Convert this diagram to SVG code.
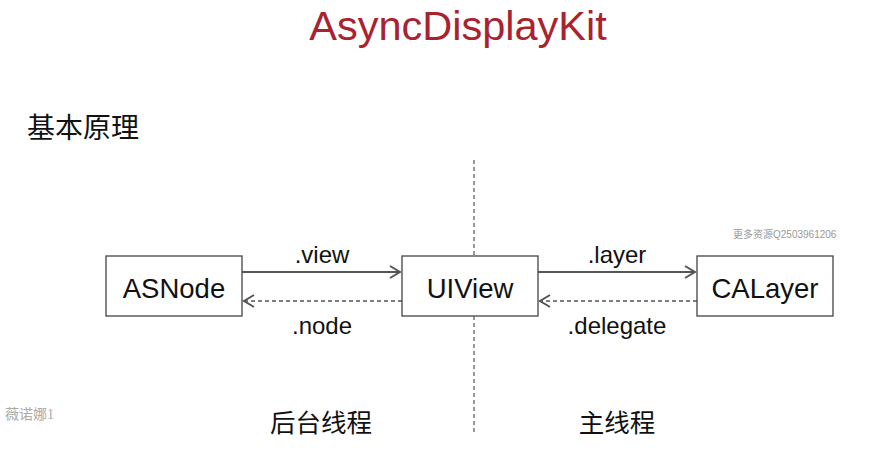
<svg xmlns="http://www.w3.org/2000/svg" width="872" height="468" viewBox="0 0 872 468">
<style>
.box{fill:#fff;stroke:#444;stroke-width:1.3}
.t{font-family:"Liberation Sans","Noto Sans CJK SC",sans-serif;fill:#111}
.bl{font-size:27.5px;text-anchor:middle}
.lbl{font-size:24px;text-anchor:middle}
.cn{font-family:"Noto Sans CJK SC",sans-serif;fill:#111}
.solid{stroke:#555;stroke-width:2;fill:none}
.dash{stroke:#555;stroke-width:1.5;fill:none;stroke-dasharray:4,3}
</style>
<defs>
<marker id="ah" markerWidth="14" markerHeight="14" refX="12" refY="7" orient="auto" markerUnits="userSpaceOnUse">
<path d="M2,1 L12,7 L2,13" fill="none" stroke="#555" stroke-width="2"/>
</marker>
</defs>
<rect width="872" height="468" fill="#fff"/>
<text x="458" y="40" font-family="Liberation Sans,sans-serif" font-size="41.5" fill="#a8232f" text-anchor="middle">AsyncDisplayKit</text>
<text x="27" y="138" class="cn" font-size="28">基本原理</text>
<g id="divider">
<line x1="474" y1="160" x2="474" y2="256" stroke="#777" stroke-width="1.5" stroke-dasharray="4,3"/>
<line x1="474" y1="316" x2="474" y2="432" stroke="#777" stroke-width="1.5" stroke-dasharray="4,3"/>
</g>
<g id="connectors">
<line class="solid" x1="242" y1="272" x2="400" y2="272" marker-end="url(#ah)"/>
<line class="dash" x1="402" y1="301" x2="244" y2="301" marker-end="url(#ah)"/>
<line class="solid" x1="538" y1="272" x2="695" y2="272" marker-end="url(#ah)"/>
<line class="dash" x1="697" y1="301" x2="540" y2="301" marker-end="url(#ah)"/>
<text class="t lbl" x="322" y="263">.view</text>
<text class="t lbl" x="322" y="334">.node</text>
<text class="t lbl" x="617" y="263">.layer</text>
<text class="t lbl" x="617" y="334">.delegate</text>
</g>
<g id="asnode">
<rect class="box" x="106" y="256" width="136" height="60"/>
<text class="t bl" x="174" y="298">ASNode</text>
</g>
<g id="uiview">
<rect class="box" x="402" y="256" width="136" height="60"/>
<text class="t bl" x="470" y="298">UIView</text>
</g>
<g id="calayer">
<rect class="box" x="697" y="256" width="136" height="60"/>
<text class="t bl" x="765" y="298">CALayer</text>
</g>
<text x="321" y="432" class="cn" font-size="25.5" text-anchor="middle">后台线程</text>
<text x="617" y="432" class="cn" font-size="25.5" text-anchor="middle">主线程</text>
<text x="733" y="238" font-family="Liberation Sans,'Noto Sans CJK SC',sans-serif" font-size="10" fill="#999">更多资源Q2503961206</text>
<text x="5" y="419" font-family="'Liberation Serif','Noto Sans CJK SC',serif" font-size="14" fill="#aaa">薇诺娜1</text>
</svg>
